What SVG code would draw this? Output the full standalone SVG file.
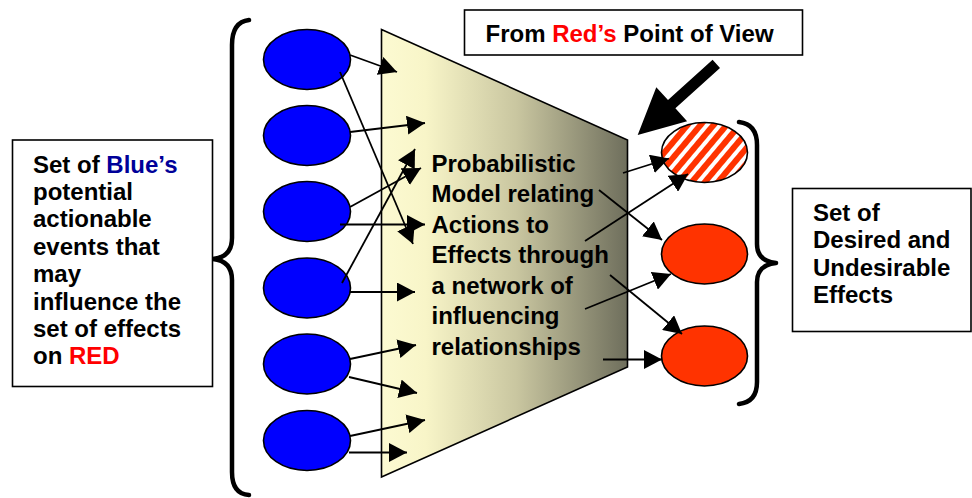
<svg xmlns="http://www.w3.org/2000/svg" width="972" height="498" viewBox="0 0 972 498">
<defs>
<style>
.t{font-family:"Liberation Sans",Arial,sans-serif;font-weight:bold;font-size:24px;fill:#000}
.blue{fill:#0000FF;stroke:#000;stroke-width:1.6}
.red{fill:#FF3300;stroke:#000;stroke-width:1.6}
.box{fill:#fff;stroke:#000;stroke-width:1.6}
.brace{fill:none;stroke:#000;stroke-width:4.5;stroke-linecap:round;stroke-linejoin:round}
.c{fill:none;stroke:#000;stroke-width:1.8;marker-end:url(#ah)}
</style>
<marker id="ah" markerUnits="userSpaceOnUse" markerWidth="18" markerHeight="19" refX="18" refY="9.5" orient="auto" viewBox="0 0 18 19">
<path d="M0,0 L18,9.5 L0,19 z" fill="#000"/>
</marker>
<linearGradient id="trap" x1="381" y1="0" x2="628" y2="0" gradientUnits="userSpaceOnUse">
<stop offset="0" stop-color="#FCFAD2"/>
<stop offset="0.18" stop-color="#F8F5C8"/>
<stop offset="0.55" stop-color="#C9C6A0"/>
<stop offset="1" stop-color="#6E6E5C"/>
</linearGradient>
<pattern id="stripes" patternUnits="userSpaceOnUse" width="10" height="10" patternTransform="rotate(40)">
<rect width="10" height="10" fill="#FF3300"/>
<rect width="4" height="10" fill="#fff"/>
</pattern>
</defs>
<rect width="972" height="498" fill="#fff"/>

<g id="model">
<polygon points="381.5,29.5 627.5,140 627.5,367 381.5,477" fill="url(#trap)" stroke="#000" stroke-width="1.6"/>
<text class="t" x="431.5">
<tspan x="431.5" y="171.5">Probabilistic</tspan>
<tspan x="431.5" y="202">Model relating</tspan>
<tspan x="431.5" y="232.5">Actions to</tspan>
<tspan x="431.5" y="263">Effects through</tspan>
<tspan x="431.5" y="293.5">a network of</tspan>
<tspan x="431.5" y="324">influencing</tspan>
<tspan x="431.5" y="354.5">relationships</tspan>
</text>
</g>

<g id="brace-left">
<path class="brace" d="M249,20 Q232,22 232,45 L232,238 Q232,257 213,259 Q232,261 232,280 L232,472 Q232,494 249,495"/>
</g>
<g id="brace-right">
<path class="brace" d="M739,122 Q757,124 757,145 L757,244 Q757,261 776,263 Q757,265 757,282 L757,382 Q757,402 739,404"/>
</g>

<g id="blue1"><ellipse class="blue" cx="307" cy="59.5" rx="43.5" ry="30"/></g>
<g id="blue2"><ellipse class="blue" cx="307" cy="135.5" rx="43.5" ry="30"/></g>
<g id="blue3"><ellipse class="blue" cx="307" cy="211.5" rx="43.5" ry="30"/></g>
<g id="blue4"><ellipse class="blue" cx="307" cy="288" rx="43.5" ry="30"/></g>
<g id="blue5"><ellipse class="blue" cx="307" cy="364" rx="43.5" ry="30"/></g>
<g id="blue6"><ellipse class="blue" cx="307" cy="440.5" rx="43.5" ry="30"/></g>

<g id="effect1"><ellipse cx="704.5" cy="152.5" rx="43" ry="30" fill="url(#stripes)" stroke="#000" stroke-width="1.6"/></g>
<g id="effect2"><ellipse class="red" cx="704.5" cy="254" rx="43" ry="30"/></g>
<g id="effect3"><ellipse class="red" cx="704.5" cy="356" rx="43" ry="30"/></g>

<g id="connectors">
<line class="c" x1="350" y1="55" x2="397" y2="72"/>
<line class="c" x1="340" y1="72" x2="413" y2="244"/>
<line class="c" x1="350" y1="132" x2="425" y2="123"/>
<line class="c" x1="350" y1="207" x2="421" y2="168"/>
<line class="c" x1="342" y1="283" x2="415" y2="149"/>
<line class="c" x1="340" y1="224.5" x2="425" y2="224.5"/>
<line class="c" x1="350" y1="292" x2="415" y2="292"/>
<line class="c" x1="350" y1="359" x2="416" y2="345"/>
<line class="c" x1="349" y1="377" x2="417" y2="393"/>
<line class="c" x1="350" y1="436" x2="425" y2="420"/>
<line class="c" x1="349" y1="452.5" x2="407" y2="452.5"/>
<line class="c" x1="623" y1="173" x2="669" y2="158.5"/>
<line class="c" x1="585" y1="241" x2="688" y2="174"/>
<line class="c" x1="599" y1="190" x2="662" y2="240"/>
<line class="c" x1="585" y1="309" x2="671" y2="274"/>
<line class="c" x1="610" y1="275" x2="682" y2="334"/>
<line class="c" x1="603" y1="359.5" x2="662" y2="359.5"/>
</g>

<g id="pov-arrow">
<polygon points="712.6,59.7 720,67.9 675.4,108.3 687.1,121.2 637.7,135 656.3,87.2 668,100.1" fill="#000"/>
</g>

<g id="pov-label">
<rect class="box" x="464.5" y="10" width="338" height="45"/>
<text class="t" x="485.5" y="41.5">From <tspan fill="#FF0000">Red’s</tspan> Point of View</text>
</g>

<g id="blue-label">
<rect class="box" x="12.5" y="140" width="200" height="246.5"/>
<text class="t">
<tspan x="33" y="172.7">Set of <tspan fill="#000099">Blue’s</tspan></tspan>
<tspan x="33" y="200">potential</tspan>
<tspan x="33" y="227.4">actionable</tspan>
<tspan x="33" y="254.8">events that</tspan>
<tspan x="33" y="282.1">may</tspan>
<tspan x="33" y="309.5">influence the</tspan>
<tspan x="33" y="336.8">set of effects</tspan>
<tspan x="33" y="364.2">on <tspan fill="#FF0000">RED</tspan></tspan>
</text>
</g>

<g id="effects-label">
<rect class="box" x="792.5" y="188.5" width="178.5" height="143"/>
<text class="t">
<tspan x="813" y="221">Set of</tspan>
<tspan x="813" y="248.4">Desired and</tspan>
<tspan x="813" y="275.8">Undesirable</tspan>
<tspan x="813" y="303.2">Effects</tspan>
</text>
</g>
</svg>
